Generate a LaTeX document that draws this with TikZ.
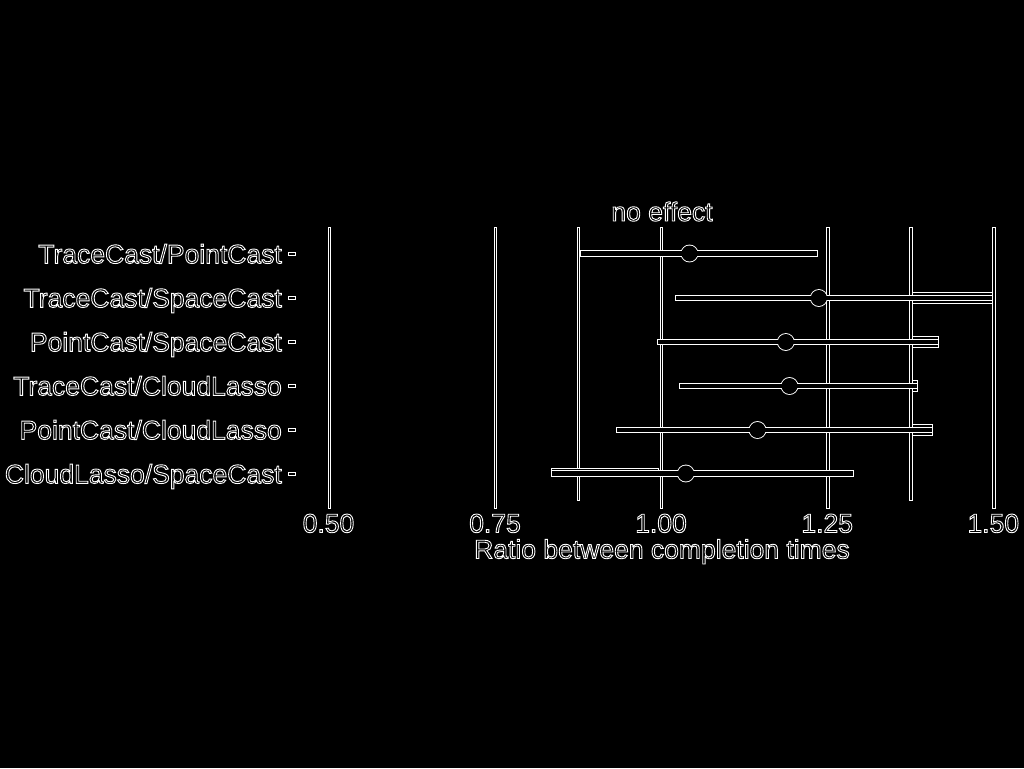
\documentclass[tikz,border=0pt]{standalone}
\usepackage{fontspec}
\setmainfont{Liberation Sans}
\newcommand{\olt}[1]{\special{pdf:literal direct 1 Tr 0.9 w 1 1 1 RG}#1\special{pdf:literal direct 0 Tr}}
\tikzset{
  gridbar/.style={draw=white, line width=0.8pt, fill=black},
  lbl/.style={text=white, font=\fontsize{26.5}{30}\selectfont, inner sep=0pt},
}
% row y, left x, right x, centre x
\newcommand{\cibar}[4]{%
  \draw[white, line width=1.8pt] (#2,#1-2.3) rectangle (#3,#1+2.3);
  \draw[white, line width=1.8pt] (#4,#1) circle (8);
  \fill[black] (#2,#1-2.3) rectangle (#3,#1+2.3);
  \fill[black] (#4,#1) circle (8);
}
\begin{document}
\begin{tikzpicture}[x=1pt,y=-1pt]
\fill[black] (0,0) rectangle (1024,768);
\useasboundingbox (0,0) rectangle (1024,768);
% gridlines
\foreach \gx in {329.3,495.6,661.5,827.7,993.8}
  \draw[gridbar] (\gx-1.2,227) rectangle (\gx+1.2,508);
\foreach \gx in {578.5,911}
  \draw[gridbar] (\gx-1.2,227) rectangle (\gx+1.2,500);
% y ticks
\foreach \ry in {254,298,342,386,430,474}
  \draw[gridbar] (288.5,\ry-1.3) rectangle (295.5,\ry+1.3);
% wider boxes
\draw[gridbar] (912.5,292.5) rectangle (992,303.3);
\draw[gridbar] (912.5,336.3) rectangle (938,347.3);
\draw[gridbar] (912.5,380.3) rectangle (917,391.5);
\draw[gridbar] (912.5,424.3) rectangle (932,435.7);
\draw[gridbar] (551.7,468.3) rectangle (658.5,476.7);
% interval bars with point estimates
\cibar{253.5}{581}{817}{689.5}
\cibar{298}{676}{992}{818.8}
\cibar{342}{658}{938}{785.8}
\cibar{386}{680}{917}{789.5}
\cibar{430}{617}{932}{757.5}
\cibar{473.5}{552}{853}{685.8}
% labels
\node[lbl, anchor=base east] (l1) at (282,263.3) {\olt{TraceCast/PointCast}};
\node[lbl, anchor=base east] (l2) at (282,307.3) {\olt{TraceCast/SpaceCast}};
\node[lbl, anchor=base east] (l3) at (282,351.3) {\olt{PointCast/SpaceCast}};
\node[lbl, anchor=base east] (l4) at (282,395.3) {\olt{TraceCast/CloudLasso}};
\node[lbl, anchor=base east] (l5) at (282,439.3) {\olt{PointCast/CloudLasso}};
\node[lbl, anchor=base east] (l6) at (282,483.3) {\olt{CloudLasso/SpaceCast}};
\node[lbl, anchor=base] (ne) at (662,221) {\olt{no effect}};
\node[lbl, anchor=base] (t1) at (328.5,532.5) {\olt{0.50}};
\node[lbl, anchor=base] (t2) at (495,532.5) {\olt{0.75}};
\node[lbl, anchor=base] (t3) at (661,532.5) {\olt{1.00}};
\node[lbl, anchor=base] (t4) at (827.2,532.5) {\olt{1.25}};
\node[lbl, anchor=base] (t5) at (993.3,532.5) {\olt{1.50}};
\node[lbl, anchor=base] (xt) at (662,558.5) {\olt{Ratio between completion times}};
\end{tikzpicture}
\end{document}
